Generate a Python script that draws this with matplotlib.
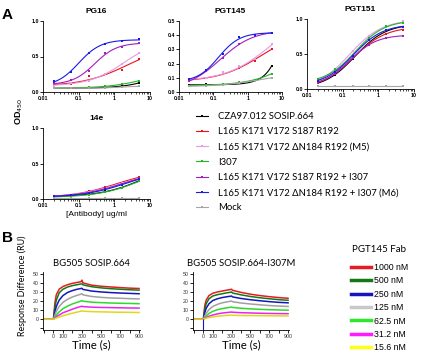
import numpy as np
import matplotlib
matplotlib.use("Agg")
import matplotlib.pyplot as plt
from matplotlib.lines import Line2D
from matplotlib.ticker import LogLocator, NullFormatter, MultipleLocator, FixedLocator

W, H = 424, 354

# ---------------- Panel A data ----------------
conc = [0.02, 0.06, 0.19, 0.56, 1.67, 5.0]
variant_names = ["CZA97.012 SOSIP.664",
                 "L165 K171 V172 S187 R192",
                 "L165 K171 V172 \u0394N184 R192 (M5)",
                 "I307",
                 "L165 K171 V172 S187 R192 + I307",
                 "L165 K171 V172 \u0394N184 R192 + I307 (M6)",
                 "Mock"]
variant_colors = ["#000000", "#e8141c", "#e89be8", "#22b822", "#a01fc0", "#1a1ae6", "#a6a6a6"]

pg16_od = [
    [0.05, 0.05, 0.06, 0.07, 0.08, 0.13],
    [0.09, 0.11, 0.22, 0.25, 0.31, 0.47],
    [0.09, 0.13, 0.16, 0.25, 0.40, 0.55],
    [0.06, 0.05, 0.07, 0.08, 0.11, 0.16],
    [0.12, 0.17, 0.30, 0.55, 0.63, 0.69],
    [0.15, 0.28, 0.55, 0.68, 0.72, 0.74],
    [0.06, 0.05, 0.05, 0.06, 0.07, 0.08],
]
pgt145_od = [
    [0.050, 0.055, 0.050, 0.060, 0.075, 0.185],
    [0.075, 0.100, 0.140, 0.170, 0.220, 0.305],
    [0.080, 0.100, 0.140, 0.180, 0.230, 0.335],
    [0.045, 0.050, 0.055, 0.070, 0.085, 0.130],
    [0.075, 0.148, 0.242, 0.336, 0.392, 0.415],
    [0.089, 0.157, 0.270, 0.385, 0.400, 0.418],
    [0.040, 0.045, 0.050, 0.065, 0.080, 0.100],
]
pgt151_od = [
    [0.08, 0.20, 0.43, 0.72, 0.73, 0.94],
    [0.09, 0.22, 0.44, 0.65, 0.79, 0.85],
    [0.13, 0.27, 0.55, 0.76, 0.88, 0.97],
    [0.14, 0.28, 0.48, 0.73, 0.90, 0.94],
    [0.10, 0.22, 0.45, 0.63, 0.73, 0.76],
    [0.12, 0.25, 0.47, 0.70, 0.85, 0.89],
    [0.05, 0.05, 0.05, 0.05, 0.05, 0.05],
]
e14_od = [
    [0.04, 0.04, 0.07, 0.11, 0.16, 0.26],
    [0.04, 0.06, 0.11, 0.17, 0.23, 0.31],
    [0.04, 0.06, 0.10, 0.16, 0.22, 0.29],
    [0.03, 0.04, 0.06, 0.10, 0.16, 0.25],
    [0.04, 0.06, 0.09, 0.15, 0.21, 0.29],
    [0.04, 0.05, 0.08, 0.14, 0.20, 0.28],
    [0.02, 0.02, 0.02, 0.02, 0.02, 0.02],
]

# ---------------- Panel B data ----------------
time_s = [-110, 0, 15, 30, 60, 100, 150, 200, 250, 290, 300, 310, 400, 500, 600, 700, 800, 900]
fab_labels = ["1000 nM", "500 nM", "250 nM", "125 nM", "62.5 nM", "31.2 nM", "15.6 nM"]
fab_colors = ["#e51c23", "#137a13", "#1515c0", "#a0a0a0", "#2ed82e", "#ee22ee", "#e0d81a"]
fab_legend_colors = ["#e51c23", "#137a13", "#1515c0", "#c8c8c8", "#2ee62e", "#ff1aff", "#ffff1a"]

wt_ru = [
    [0, 0, 18, 27, 33, 36, 38, 39.5, 40.5, 41.3, 43, 40, 37.5, 36.3, 35.5, 34.8, 34.2, 33.8],
    [0, 0, 13, 21, 29, 33, 35.5, 37, 38, 38.8, 39, 37.8, 35.8, 34.5, 33.6, 33, 32.4, 32],
    [0, 0, 8, 14, 21, 26, 29.5, 31.5, 33, 33.8, 34, 32.8, 31, 30, 29.3, 28.8, 28.4, 28],
    [0, 0, 4.5, 8.5, 14, 18.5, 22, 24.5, 26.3, 27.6, 28, 26.8, 25, 24, 23.4, 23, 22.6, 22.3],
    [0, 0, 2.5, 4.5, 8, 11.5, 14.5, 16.8, 18.6, 20, 20.5, 19.8, 18.7, 18.2, 17.8, 17.5, 17.3, 17],
    [0, 0, 1.3, 2.5, 4.5, 7, 9, 11, 12.8, 14, 14.2, 13.8, 13.2, 12.9, 12.7, 12.5, 12.3, 12.2],
    [0, 0, 0.6, 1.2, 2.3, 3.7, 5.2, 6.5, 7.8, 8.8, 9, 8.8, 8.3, 8, 7.8, 7.6, 7.5, 7.3],
]
i307m_ru = [
    [0, 0, 15, 21, 26, 28.5, 30, 31, 32, 32.7, 33, 31.8, 29.5, 27.5, 26, 24.8, 23.8, 23],
    [0, 0, 11, 17, 22.5, 25.5, 27, 28, 29, 29.7, 30, 28.8, 26.8, 25, 23.6, 22.5, 21.5, 20.8],
    [0, 0, 7, 12, 17, 20.5, 22.5, 23.8, 24.7, 25.3, 25.5, 24.5, 22.8, 21.4, 20.3, 19.3, 18.5, 18],
    [0, 0, 3.5, 6.5, 10.5, 14, 16.3, 18, 19, 19.8, 20, 19.2, 17.8, 16.7, 15.8, 15, 14.4, 14],
    [0, 0, 2, 3.6, 6.2, 8.6, 10.4, 11.6, 12.5, 13.1, 13.3, 12.9, 12, 11.3, 10.8, 10.4, 10.1, 9.8],
    [0, 0, 1, 1.8, 3.2, 4.6, 5.8, 6.7, 7.3, 7.7, 7.8, 7.6, 7.1, 6.8, 6.5, 6.3, 6.1, 6],
    [0, 0, 0.5, 1, 1.7, 2.5, 3.2, 3.7, 4.1, 4.35, 4.4, 4.3, 4, 3.9, 3.8, 3.7, 3.6, 3.5],
]
injection_time = 0

# ---------------- helpers ----------------
ARIAL = "Liberation Sans"
CALIBRI = "Lato"

fig = plt.figure(figsize=(W / 100, H / 100), dpi=100)


def add_ax(x0, y0, x1, y1):
    return fig.add_axes([x0 / W, 1 - y1 / H, (x1 - x0) / W, (y1 - y0) / H])


def fit_4pl(x, y):
    """Least-squares 4-parameter logistic fit (grid over EC50/hill, linear in bottom/span)."""
    lx = np.log10(np.asarray(x))
    y = np.asarray(y)
    best = (np.inf, None)
    for c in np.linspace(-2.0, 3.0, 101):
        for h in np.linspace(0.7, 1.4, 15):
            s = 1.0 / (1.0 + 10 ** ((c - lx) * h))
            A = np.vstack([np.ones_like(s), s]).T
            coef = np.linalg.lstsq(A, y, rcond=None)[0]
            if coef[1] < 0 or coef[0] < 0:
                continue
            err = np.sum((A @ coef - y) ** 2)
            if err < best[0]:
                best = (err, (c, h, coef))
    if best[1] is None:
        m = float(np.mean(y))
        return lambda xx: np.full_like(np.asarray(xx, float), m)
    c, h, coef = best[1]
    return lambda xx: coef[0] + coef[1] / (1.0 + 10 ** ((c - np.log10(xx)) * h))


def style_common(ax):
    for s in ("top", "right"):
        ax.spines[s].set_visible(False)
    for s in ("left", "bottom"):
        ax.spines[s].set_linewidth(0.6)
    ax.tick_params(which="major", length=2, width=0.6, pad=1, direction="out")
    ax.tick_params(which="minor", length=1.2, width=0.5, direction="out")


def panel_A(ax, title, values, ymax, ystep):
    xs = np.logspace(np.log10(conc[0]), np.log10(conc[-1]), 120)
    for vals, col in zip(values, variant_colors):
        f = fit_4pl(conc, vals)
        ax.plot(xs, f(xs), color=col, lw=0.8)
        ax.plot(conc, vals, ls="none", marker="s", ms=1.8, color=col, mew=0)
    ax.set_xscale("log")
    ax.set_xlim(0.01, 10)
    ax.set_ylim(0, ymax)
    ax.set_xticks([0.01, 0.1, 1, 10])
    ax.set_xticklabels(["0.01", "0.1", "1", "10"])
    ax.xaxis.set_minor_locator(LogLocator(base=10, subs=np.arange(2, 10)))
    ax.xaxis.set_minor_formatter(NullFormatter())
    ax.yaxis.set_major_locator(MultipleLocator(ystep))
    ax.yaxis.set_major_formatter(plt.FuncFormatter(lambda v, p: f"{v:.1f}"))
    style_common(ax)
    for lab in ax.get_xticklabels() + ax.get_yticklabels():
        lab.set_fontsize(3.8)
        lab.set_fontweight("bold")
        lab.set_family(ARIAL)
    ax.set_title(title, fontsize=6, fontweight="bold", family=ARIAL, pad=6)


ax1 = add_ax(43, 21, 150, 92)
panel_A(ax1, "PG16", pg16_od, 1.0, 0.5)
ax2 = add_ax(179, 21, 282, 92)
panel_A(ax2, "PGT145", pgt145_od, 0.5, 0.1)
ax3 = add_ax(307, 19, 414, 89)
panel_A(ax3, "PGT151", pgt151_od, 1.0, 0.5)
ax4 = add_ax(43, 128, 150, 199)
panel_A(ax4, "14e", e14_od, 1.0, 0.5)
ax4.set_xlabel("[Antibody] ug/ml", fontsize=6, family=ARIAL, labelpad=2)

fig.text(19 / W, 1 - 111 / H, "OD$_{450}$", rotation=90, fontsize=6.5, fontweight="bold",
         family=ARIAL, ha="center", va="center")

handles_A = [Line2D([], [], color=c, lw=0.8, marker="s", ms=1.8, mew=0) for c in variant_colors]
fig.legend(handles_A, variant_names, loc="upper left", bbox_to_anchor=(196 / W, 1 - 112 / H),
           frameon=False, prop={"family": CALIBRI, "size": 6.8}, handlelength=1.3,
           handletextpad=1.0, labelspacing=0.66, borderpad=0, borderaxespad=0)

fig.text(2 / W, 1 - 15 / H, "A", fontsize=11, fontweight="bold", family=ARIAL, va="center")
fig.text(2 / W, 1 - 238 / H, "B", fontsize=11, fontweight="bold", family=ARIAL, va="center")


# ---------------- Panel B ----------------
def panel_B(ax, title, values, inj_color=None):
    for vals, col in zip(values, fab_colors):
        ax.plot(time_s, vals, color=col, lw=1.1)
    ax.set_xlim(-110, 910)
    ax.set_ylim(-12, 52)
    if inj_color:
        ax.vlines(injection_time, -12, 0, color=inj_color, lw=0.8)
    ax.xaxis.set_major_locator(FixedLocator([0, 100, 300, 500, 700, 900]))
    ax.xaxis.set_minor_locator(FixedLocator([-100, 200, 400, 600, 800]))
    ax.yaxis.set_major_locator(FixedLocator([0, 10, 20, 30, 40, 50]))
    ax.yaxis.set_minor_locator(FixedLocator([-10]))
    style_common(ax)
    ax.tick_params(which="minor", length=2, width=0.6)
    for lab in ax.get_xticklabels() + ax.get_yticklabels():
        lab.set_fontsize(3.8)
        lab.set_family(ARIAL)
        lab.set_color("#333333")
    ax.set_title(title, fontsize=6.8, family=CALIBRI, pad=4)
    ax.set_xlabel("Time (s)", fontsize=8.2, family=CALIBRI, labelpad=0)


bx1 = add_ax(43, 272, 140, 330)
panel_B(bx1, "BG505 SOSIP.664", wt_ru)
bx2 = add_ax(193, 272, 289, 330)
panel_B(bx2, "BG505 SOSIP.664-I307M", i307m_ru, inj_color="#1515c0")

fig.text(22 / W, 1 - 286 / H, "Response Difference (RU)", rotation=90, fontsize=6.4,
         family=CALIBRI, ha="center", va="center")

fig.text(379 / W, 1 - 250 / H, "PGT145 Fab", fontsize=7, family=CALIBRI, ha="center", va="center")
handles_B = [Line2D([], [], color=c, lw=2.5) for c in fab_legend_colors]
fig.legend(handles_B, fab_labels, loc="upper left", bbox_to_anchor=(351 / W, 1 - 263 / H),
           frameon=False, prop={"family": ARIAL, "size": 6.3}, handlelength=2.3,
           handletextpad=0.3, labelspacing=0.5, borderpad=0, borderaxespad=0)

fig.savefig("out.png", dpi=100)
